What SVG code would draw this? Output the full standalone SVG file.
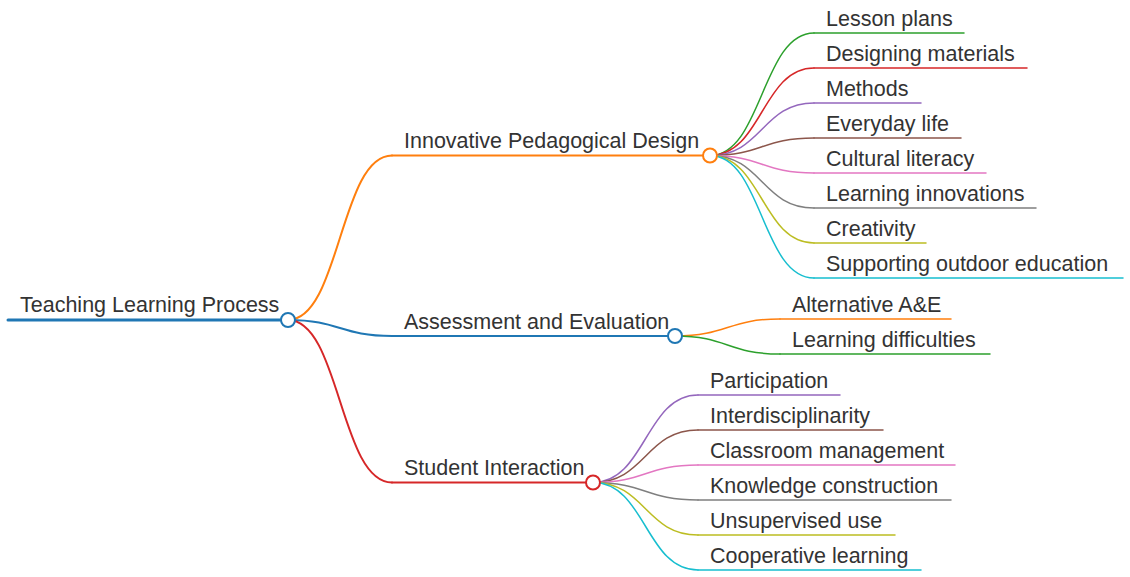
<svg xmlns="http://www.w3.org/2000/svg" width="1130" height="577" viewBox="0 0 1130 577">
<style>
text{font-family:"Liberation Sans",Arial,Helvetica,sans-serif;font-size:21.5px;fill:#333}
path,line{fill:none;stroke-linecap:round}
.l0{stroke-width:3}
.l1{stroke-width:2}
.l2{stroke-width:1.5}
circle{fill:#fff;stroke-width:2}
</style>
<rect width="1130" height="577" fill="#fff"/>
<g id="connectors">
<path class="l1" stroke="#ff7f0e" d="M288,320 C340,320 340,155.5 392,155.5"/>
<path class="l1" stroke="#1f77b4" d="M288,320 C340,320 340,336 392,336"/>
<path class="l1" stroke="#d62728" d="M288,320 C340,320 340,482.5 392,482.5"/>
<path class="l2" stroke="#2ca02c" d="M710,155.5 C762,155.5 762,33 814,33"/>
<path class="l2" stroke="#d62728" d="M710,155.5 C762,155.5 762,68 814,68"/>
<path class="l2" stroke="#9467bd" d="M710,155.5 C762,155.5 762,103 814,103"/>
<path class="l2" stroke="#8c564b" d="M710,155.5 C762,155.5 762,138 814,138"/>
<path class="l2" stroke="#e377c2" d="M710,155.5 C762,155.5 762,173 814,173"/>
<path class="l2" stroke="#7f7f7f" d="M710,155.5 C762,155.5 762,208 814,208"/>
<path class="l2" stroke="#bcbd22" d="M710,155.5 C762,155.5 762,243 814,243"/>
<path class="l2" stroke="#17becf" d="M710,155.5 C762,155.5 762,278 814,278"/>
<path class="l2" stroke="#ff7f0e" d="M675,336 C727.5,336 727.5,319 780,319"/>
<path class="l2" stroke="#2ca02c" d="M675,336 C727.5,336 727.5,354 780,354"/>
<path class="l2" stroke="#9467bd" d="M593,482.5 C645.5,482.5 645.5,395 698,395"/>
<path class="l2" stroke="#8c564b" d="M593,482.5 C645.5,482.5 645.5,430 698,430"/>
<path class="l2" stroke="#e377c2" d="M593,482.5 C645.5,482.5 645.5,465 698,465"/>
<path class="l2" stroke="#7f7f7f" d="M593,482.5 C645.5,482.5 645.5,500 698,500"/>
<path class="l2" stroke="#bcbd22" d="M593,482.5 C645.5,482.5 645.5,535 698,535"/>
<path class="l2" stroke="#17becf" d="M593,482.5 C645.5,482.5 645.5,570 698,570"/>
</g>
<g id="root">
<line class="l0" stroke="#1f77b4" x1="8" y1="320" x2="288" y2="320"/>
<text x="20" y="312">Teaching Learning Process</text>
<circle cx="288" cy="320" r="7" stroke="#1f77b4"/>
</g>
<g id="ipd">
<line class="l1" stroke="#ff7f0e" x1="392" y1="155.5" x2="710" y2="155.5"/>
<text x="404" y="148">Innovative Pedagogical Design</text>
<circle cx="710" cy="155.5" r="7" stroke="#ff7f0e"/>
</g>
<g id="ae">
<line class="l1" stroke="#1f77b4" x1="392" y1="336" x2="675" y2="336"/>
<text x="404" y="329">Assessment and Evaluation</text>
<circle cx="675" cy="336" r="7" stroke="#1f77b4"/>
</g>
<g id="si">
<line class="l1" stroke="#d62728" x1="392" y1="482.5" x2="593" y2="482.5"/>
<text x="404" y="475">Student Interaction</text>
<circle cx="593" cy="482.5" r="7" stroke="#d62728"/>
</g>
<g id="lesson-plans"><line class="l2" stroke="#2ca02c" x1="814" y1="33" x2="964" y2="33"/><text x="826" y="26">Lesson plans</text></g>
<g id="designing-materials"><line class="l2" stroke="#d62728" x1="814" y1="68" x2="1027" y2="68"/><text x="826" y="61">Designing materials</text></g>
<g id="methods"><line class="l2" stroke="#9467bd" x1="814" y1="103" x2="921" y2="103"/><text x="826" y="96">Methods</text></g>
<g id="everyday-life"><line class="l2" stroke="#8c564b" x1="814" y1="138" x2="961" y2="138"/><text x="826" y="131">Everyday life</text></g>
<g id="cultural-literacy"><line class="l2" stroke="#e377c2" x1="814" y1="173" x2="986" y2="173"/><text x="826" y="166">Cultural literacy</text></g>
<g id="learning-innovations"><line class="l2" stroke="#7f7f7f" x1="814" y1="208" x2="1036" y2="208"/><text x="826" y="201">Learning innovations</text></g>
<g id="creativity"><line class="l2" stroke="#bcbd22" x1="814" y1="243" x2="926" y2="243"/><text x="826" y="236">Creativity</text></g>
<g id="outdoor"><line class="l2" stroke="#17becf" x1="814" y1="278" x2="1123" y2="278"/><text x="826" y="271">Supporting outdoor education</text></g>
<g id="alternative-ae"><line class="l2" stroke="#ff7f0e" x1="780" y1="319" x2="951" y2="319"/><text x="792" y="312">Alternative A&amp;E</text></g>
<g id="learning-difficulties"><line class="l2" stroke="#2ca02c" x1="780" y1="354" x2="990" y2="354"/><text x="792" y="347">Learning difficulties</text></g>
<g id="participation"><line class="l2" stroke="#9467bd" x1="698" y1="395" x2="840" y2="395"/><text x="710" y="388">Participation</text></g>
<g id="interdisciplinarity"><line class="l2" stroke="#8c564b" x1="698" y1="430" x2="883" y2="430"/><text x="710" y="423">Interdisciplinarity</text></g>
<g id="classroom-management"><line class="l2" stroke="#e377c2" x1="698" y1="465" x2="955" y2="465"/><text x="710" y="458">Classroom management</text></g>
<g id="knowledge-construction"><line class="l2" stroke="#7f7f7f" x1="698" y1="500" x2="951" y2="500"/><text x="710" y="493">Knowledge construction</text></g>
<g id="unsupervised-use"><line class="l2" stroke="#bcbd22" x1="698" y1="535" x2="895" y2="535"/><text x="710" y="528">Unsupervised use</text></g>
<g id="cooperative-learning"><line class="l2" stroke="#17becf" x1="698" y1="570" x2="921" y2="570"/><text x="710" y="563">Cooperative learning</text></g>
</svg>
